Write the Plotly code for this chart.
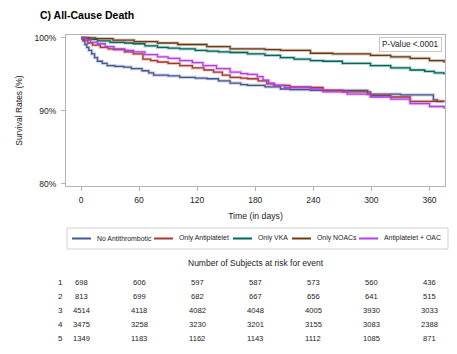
import plotly.graph_objects as go

# ---------------- data ----------------
series_names = ["No Antithrombotic", "Only Antiplatelet", "Only VKA", "Only NOACs", "Antiplatelet + OAC"]
series_colors = ["#445694", "#A23A2E", "#01665E", "#6B3A10", "#B23FE6"]

days_no_anti = [0, 2, 4, 6, 8, 11, 14, 17, 22, 27, 35, 44, 52, 63, 70, 75, 90, 102, 118, 130, 142, 154,
                165, 172, 190, 206, 216, 237, 261, 296, 330, 364, 368, 375]
surv_no_anti = [100, 99.6, 99.1, 98.7, 98.3, 97.8, 97.3, 96.8, 96.5, 96.2, 96.1, 96.0, 95.8, 95.5, 95.2, 94.9,
                94.8, 94.6, 94.5, 94.4, 94.1, 93.8, 93.6, 93.5, 93.3, 93.0, 92.9, 92.8, 92.8, 92.3, 92.2,
                91.5, 91.3, 91.2]

days_antiplt = [0, 3, 7, 12, 20, 28, 34, 45, 54, 64, 72, 79, 90, 102, 115, 127, 137, 146, 154, 165, 172,
                183, 192, 200, 216, 237, 250, 270, 299, 320, 340, 375]
surv_antiplt = [100, 99.7, 99.3, 99.0, 98.7, 98.5, 98.4, 98.1, 97.8, 97.1, 96.9, 96.7, 96.5, 96.2, 95.9,
                95.6, 95.3, 94.9, 94.6, 94.5, 94.4, 94.1, 93.7, 93.5, 93.3, 93.2, 92.8, 92.6, 92.1, 91.9,
                91.3, 91.3]

days_vka = [0, 8, 17, 30, 45, 54, 66, 79, 90, 102, 118, 130, 142, 154, 172, 190, 206, 220, 237, 250, 270,
            299, 320, 340, 355, 365, 375]
surv_vka = [100, 99.8, 99.6, 99.4, 99.3, 99.2, 98.9, 98.7, 98.6, 98.5, 98.3, 98.2, 98.1, 98.0, 97.8, 97.6,
            97.3, 97.1, 96.9, 96.8, 96.5, 96.2, 95.9, 95.6, 95.4, 95.2, 95.0]

days_noac = [0, 15, 33, 55, 79, 100, 130, 154, 172, 190, 206, 237, 260, 299, 320, 340, 360, 375]
surv_noac = [100, 99.9, 99.7, 99.5, 99.3, 99.1, 98.8, 98.5, 98.5, 98.4, 98.3, 97.9, 97.8, 97.6, 97.4,
             97.2, 96.9, 96.6]

days_combo = [0, 5, 10, 17, 25, 34, 45, 54, 66, 79, 90, 102, 115, 126, 140, 154, 165, 172, 182, 188, 194,
              199, 210, 237, 250, 275, 299, 320, 340, 360, 375]
surv_combo = [100, 99.7, 99.4, 99.2, 98.8, 98.5, 98.3, 98.1, 97.7, 97.4, 97.2, 96.9, 96.6, 96.2, 95.8,
              95.3, 95.1, 95.0, 94.7, 94.2, 93.8, 93.5, 93.2, 93.0, 92.6, 92.3, 91.9, 91.6, 91.0, 90.6, 90.3]

all_days = [days_no_anti, days_antiplt, days_vka, days_noac, days_combo]
all_surv = [surv_no_anti, surv_antiplt, surv_vka, surv_noac, surv_combo]

x_ticks = [0, 60, 120, 180, 240, 300, 360]
y_ticks = [80, 90, 100]
y_tick_text = ["80%", "90%", "100%"]

risk_labels = ["1", "2", "3", "4", "5"]
risk_no_anti = [698, 606, 597, 587, 573, 560, 436]
risk_antiplt = [813, 699, 682, 667, 656, 641, 515]
risk_vka = [4514, 4118, 4082, 4048, 4005, 3930, 3033]
risk_noac = [3475, 3258, 3230, 3201, 3155, 3083, 2388]
risk_combo = [1349, 1183, 1162, 1143, 1112, 1085, 871]
risk_rows = [risk_no_anti, risk_antiplt, risk_vka, risk_noac, risk_combo]

# ---------------- layout geometry ----------------
W, H = 457, 354
PL, PR, PT, PB = 66, 445, 35, 186   # plot area in pixels
FONT = "Liberation Sans, Arial, sans-serif"
AX = "#b4b4b4"


def px_x(p):
    return (p - PL) / (PR - PL)


def px_y(p):
    return (PB - p) / (PB - PT)


fig = go.Figure()
for name, col, d, s in zip(series_names, series_colors, all_days, all_surv):
    fig.add_trace(go.Scatter(x=d, y=s, mode="lines", line=dict(color=col, width=3.2, shape="hv"),
                             opacity=0.28, showlegend=False, hoverinfo="skip"))
    fig.add_trace(go.Scatter(x=d, y=s, mode="lines", name=name,
                             line=dict(color=col, width=1.3, shape="hv"), showlegend=False))

shapes = []
annotations = []

# title
annotations.append(dict(text="<b>C) All-Cause Death</b>", xref="paper", yref="paper",
                        x=px_x(38), y=px_y(15), xanchor="left", yanchor="middle", showarrow=False,
                        font=dict(family=FONT, size=10.5, color="#000")))

# p-value box
annotations.append(dict(text="P-Value <.0001", xref="paper", yref="paper",
                        x=px_x(442), y=px_y(44), xanchor="right", yanchor="middle", showarrow=False,
                        font=dict(family=FONT, size=8.2, color="#222"), bordercolor="#c8c8c8",
                        borderwidth=1, borderpad=2, bgcolor="white"))

# custom legend
shapes.append(dict(type="rect", xref="paper", yref="paper", x0=px_x(67), x1=px_x(448),
                   y0=px_y(228), y1=px_y(249), line=dict(color="#d0d0d0", width=1)))
leg_line_x = [72, 154, 233, 292, 359]
for lx, name, col in zip(leg_line_x, series_names, series_colors):
    shapes.append(dict(type="line", xref="paper", yref="paper", x0=px_x(lx), x1=px_x(lx + 19),
                       y0=px_y(238.5), y1=px_y(238.5), line=dict(color=col, width=2)))
    annotations.append(dict(text=name, xref="paper", yref="paper", x=px_x(lx + 23), y=px_y(238.5),
                            xanchor="left", yanchor="middle", showarrow=False,
                            font=dict(family=FONT, size=6.9, color="#222")))

# at-risk table
annotations.append(dict(text="Number of Subjects at risk for event", xref="paper", yref="paper",
                        x=px_x(256), y=px_y(263), xanchor="center", yanchor="middle", showarrow=False,
                        font=dict(family=FONT, size=8.5, color="#222")))
row_y = [282, 296, 310, 324, 338.5]
for lab, row, ry in zip(risk_labels, risk_rows, row_y):
    annotations.append(dict(text=lab, xref="paper", yref="paper", x=px_x(60), y=px_y(ry),
                            xanchor="center", yanchor="middle", showarrow=False,
                            font=dict(family=FONT, size=8, color="#222")))
    for xv, n in zip(x_ticks, row):
        annotations.append(dict(text=str(n), xref="x", yref="paper", x=xv, y=px_y(ry),
                                xanchor="center", yanchor="middle", showarrow=False,
                                font=dict(family=FONT, size=7.6, color="#222")))

fig.update_layout(
    width=W, height=H,
    margin=dict(l=PL, r=W - PR, t=PT, b=H - PB, pad=0),
    paper_bgcolor="white", plot_bgcolor="white",
    font=dict(family=FONT, size=8.5, color="#222"),
    shapes=shapes, annotations=annotations,
    showlegend=False,
    xaxis=dict(range=[-15.5, 376], tickvals=x_ticks, ticks="outside", ticklen=4, tickcolor=AX,
               showline=True, linecolor=AX, linewidth=1, mirror=True, showgrid=False, zeroline=False,
               tickfont=dict(family=FONT, size=8.5, color="#222"), ticklabelstandoff=2,
               title=dict(text="Time (in days)", font=dict(family=FONT, size=8.7, color="#222"), standoff=8)),
    yaxis=dict(range=[79.7, 100.4], tickvals=y_ticks, ticktext=y_tick_text, ticks="outside", ticklen=4,
               tickcolor=AX, showline=True, linecolor=AX, linewidth=1, mirror=True, showgrid=False,
               zeroline=False, tickfont=dict(family=FONT, size=8.5, color="#222"), ticklabelstandoff=3,
               title=dict(text="Survival Rates (%)", font=dict(family=FONT, size=8.5, color="#222"), standoff=10)),
)

fig.write_html("out.html", config={"displayModeBar": False},
               post_script="document.body.style.margin='0';document.body.style.overflow='hidden';")
